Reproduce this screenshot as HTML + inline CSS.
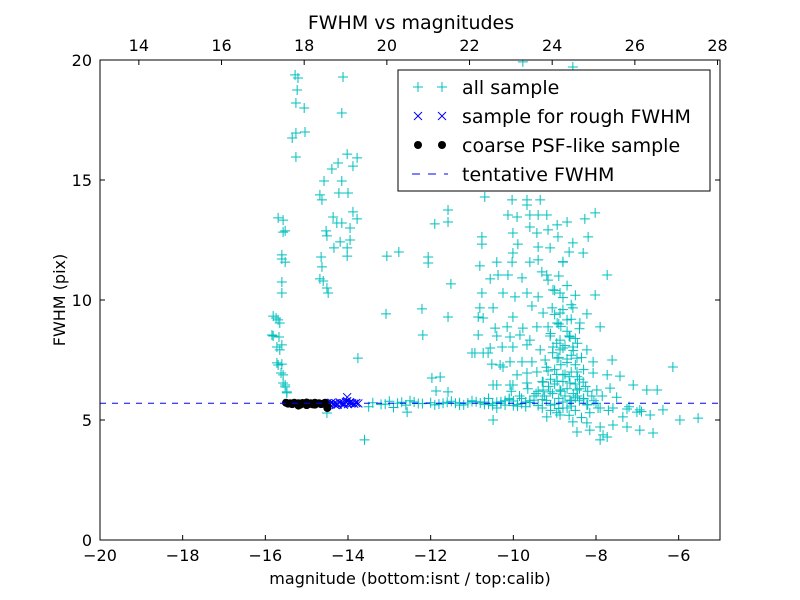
<!DOCTYPE html>
<html><head><meta charset="utf-8"><style>
body{margin:0;background:#fff;}
svg{display:block;font-family:"DejaVu Sans","Liberation Sans",sans-serif;}
</style></head><body>
<svg id="chart" width="800" height="600"></svg>
<script>
const allX=[-15.69,-15.57,-15.60,-15.52,-15.60,-15.74,-15.65,-15.81,-15.65,-15.69,-15.57,-15.52,-15.48,
-15.57,-15.52,-15.60,-15.60,-15.81,-15.69,-15.84,-15.67,-15.72,-15.60,-15.72,-15.60,-15.62,-15.57,-15.52,-15.48,
-15.28,-15.21,-15.23,-15.26,-15.06,-15.35,-15.26,-15.04,-15.26,-14.12,-14.15,
-14.02,-13.78,-14.24,-14.39,-13.88,-14.58,-14.15,-14.22,-14.00,-14.68,-14.63,-14.36,-13.88,-13.78,-14.27,-14.15,-13.95,-14.53,-14.51,-14.19,-13.95,-14.34,-14.02,-14.02,-14.65,-14.63,-14.68,-14.60,-14.51,-14.48,
-13.06,-12.77,-12.06,-12.06,-11.51,-13.08,-12.21,-11.58,-12.19,-13.76,-11.58,-11.90,-11.58,-11.97,-11.77,-11.87,-11.58,-14.51,-12.57,
-9.77,-8.56,-10.69,-10.03,-9.67,-9.35,-9.67,-10.13,-9.91,-9.60,-9.40,-9.19,-8.70,-8.27,-8.02,-8.94,-9.60,-10.01,-9.43,-9.16,-8.92,-8.19,-10.76,-10.76,-9.89,-9.40,-9.11,-8.56,-8.31,-10.01,-10.40,-10.81,-10.03,-9.60,-9.40,-8.80,-9.31,-10.56,-10.37,-10.13,-9.79,-9.19,-9.16,-7.73,-10.76,-10.25,-9.96,-9.67,-9.40,-9.04,-8.87,-8.02,-10.81,-10.49,-10.01,-9.55,-9.28,-9.06,-8.87,-8.56,-8.22,-10.73,-10.85,-10.44,-10.15,-9.77,-9.43,-9.16,-8.94,-8.70,-8.39,-7.90,-10.85,-10.40,-10.08,-9.84,-9.60,-9.11,-8.87,-8.63,-11.00,-10.73,-10.56,-10.27,-10.01,-9.67,-9.35,-9.04,-8.87,-8.56,-8.22,-10.93,-10.61,-10.32,-10.08,-9.79,-9.55,-9.23,-8.94,-8.70,-8.46,-8.07,-7.61,-6.14,-10.52,-10.25,-9.91,-9.67,-9.43,-9.16,-8.80,-8.46,-8.07,-7.73,-7.42,-7.10,-10.40,-10.01,-9.67,-9.28,-8.94,-8.63,-8.31,-10.49,-10.08,-9.67,-9.28,-8.87,-8.46,-7.98,-7.66,-6.77,-6.52,-9.11,-8.63,-8.22,-7.90,-7.59,-7.25,-6.94,-6.38,-7.01,-6.69,-7.35,-5.97,-5.53,-10.49,-9.19,-8.87,-8.56,-8.22,-7.90,-7.59,-7.25,-6.94,-6.62,-8.15,-8.46,-7.83,-7.73,-7.90,
-13.6,-13.4,-13.2,-13.0,-12.8,-12.6,-12.4,-12.2,-12.0,-11.8,-11.6,-11.4,-11.2,-11.0,-10.8,-10.6,-10.4,-10.2,-10.0,-9.8,-9.6,-9.4,-9.2,-9.0,-8.8,-8.6,-8.4,-8.2,-8.0,-13.5,-13.1,-12.7,-12.3,-11.9,-11.5,-11.1,-10.7,-10.3,-9.9,-9.5,-9.1,-8.7,-8.3,-12.9,-12.5,-11.7,-11.3,-10.9,-10.5,-10.1,-9.7,-9.3,-8.9,-8.5,-7.7,-7.5,-7.2,-6.9];
const allY=[13.42,12.83,11.88,11.58,10.75,9.25,9.04,8.50,7.92,7.29,6.88,6.46,6.13,
13.33,12.88,11.71,10.29,9.33,9.17,8.54,8.46,8.04,8.13,7.38,7.33,6.96,6.54,6.38,6.17,
19.38,19.25,18.75,18.21,18.00,16.75,16.96,17.00,15.96,19.29,17.79,
16.08,15.92,15.71,15.46,15.58,14.96,14.96,14.46,14.46,14.38,14.17,13.46,13.67,13.38,13.21,13.21,13.00,12.88,12.67,12.42,12.50,12.17,12.17,11.83,11.79,11.38,10.88,10.79,10.50,10.29,
11.83,12.00,11.79,11.54,10.67,9.42,9.63,9.29,8.54,7.58,13.75,13.17,13.25,6.75,6.79,6.21,6.17,5.29,5.33,
19.92,19.71,14.29,14.17,14.17,14.17,13.96,13.54,13.46,13.54,13.54,13.54,13.25,13.38,13.63,13.13,13.04,12.79,12.79,12.92,12.63,12.63,12.63,12.33,12.33,12.21,12.17,12.38,11.96,11.96,11.58,11.42,11.58,11.58,11.67,11.58,11.17,10.88,11.04,11.04,10.92,11.04,10.83,11.04,10.29,10.29,10.13,10.29,10.13,10.42,10.29,10.21,9.67,9.67,9.29,9.75,9.46,9.67,9.46,9.67,9.42,9.25,9.29,8.83,8.88,8.83,8.88,8.88,9.04,9.17,9.04,8.88,8.54,8.50,8.46,8.54,8.33,8.50,8.33,8.46,7.79,7.79,8.00,8.04,8.04,8.13,7.92,8.04,7.92,8.04,7.92,7.79,7.79,7.29,7.42,7.42,7.42,7.50,7.58,7.54,7.58,7.42,7.50,7.21,7.33,7.21,6.88,6.96,7.00,7.04,6.88,7.00,6.96,6.88,6.83,6.46,6.46,6.46,6.54,6.58,6.62,6.54,6.58,6.46,6.46,6.54,6.25,6.25,6.25,6.25,6.33,6.25,6.25,6.17,5.83,5.63,5.50,5.50,5.46,5.42,5.42,5.33,5.21,5.13,5.00,5.08,5.00,5.13,5.21,4.92,4.88,4.71,4.79,4.71,4.58,4.46,4.58,4.50,4.38,4.29,4.17,4.17,
5.72,5.65,5.78,5.70,5.62,5.75,5.68,5.72,5.66,5.74,5.70,5.63,5.77,5.71,5.66,5.74,5.62,5.79,5.68,5.73,5.60,5.82,5.66,5.75,5.58,5.80,5.64,5.70,5.55,5.66,5.74,5.69,5.63,5.78,5.71,5.65,5.76,5.58,5.83,5.62,5.50,5.88,5.52,5.80,5.70,5.62,5.76,5.68,5.90,5.55,5.85,5.48,5.92,5.40,5.95,5.55,5.35,5.60];
const clusterX=[-9.0,-8.9,-8.8,-8.7,-8.6,-8.5,-8.4,-9.1,-8.95,-8.85,-8.75,-8.65,-8.55,-8.45,-9.05,-8.9,-8.8,-8.7,-8.6,-8.5,-8.35,-9.2,-9.0,-8.85,-8.75,-8.6,-8.45,-8.3,-9.1,-8.95,-8.8,-8.65,-8.5,-8.4,-8.25,-9.3,-9.15,-9.0,-8.85,-8.7,-8.55,-8.4,-8.2,-9.4,-9.25,-9.05,-8.9,-8.75,-8.6,-8.45,-8.3,-8.1,-9.5,-9.3,-9.1,-8.95,-8.8,-8.65,-8.5,-8.35,-8.15,-9.0,-8.8,-8.6,-8.9,-8.7,-8.5,-8.8,-8.65,-9.6,-9.8,-10.0,-10.2,-10.4,-10.6,-9.7,-9.9,-10.1,-10.3,-10.5,-10.7,-11.0,-11.3,-9.45,-9.65,-9.85,-10.05,-8.05,-7.95,-7.85];
const clusterY=[9.4,9.0,9.6,8.7,9.2,8.4,8.8,8.6,8.2,8.9,8.1,8.5,7.9,8.2,7.8,7.6,8.0,7.4,7.7,7.3,7.6,7.2,7.1,7.3,6.9,7.0,6.8,7.1,6.7,6.9,6.6,6.8,6.5,6.7,6.4,6.6,6.4,6.5,6.2,6.3,6.1,6.3,6.2,6.2,6.0,6.1,5.9,6.0,5.8,6.0,5.9,6.0,6.0,5.5,5.4,5.3,5.5,5.2,5.4,5.1,5.3,10.4,10.1,9.8,11.0,10.6,10.2,11.6,12.0,5.8,5.9,5.6,5.8,5.5,5.9,5.75,5.65,5.85,5.7,5.6,5.75,5.8,5.72,6.1,6.3,6.0,6.2,5.8,5.5,6.0];
const roughX=[-14.5,-14.45,-14.4,-14.35,-14.3,-14.25,-14.2,-14.15,-14.1,-14.05,-14.02,-14.0,-13.95,-13.9,-13.85,-13.8,-13.75,-14.3,-14.1,-13.95,-14.02];
const roughY=[5.7,5.66,5.72,5.68,5.7,5.64,5.73,5.69,5.7,5.75,5.78,5.66,5.72,5.7,5.68,5.71,5.69,5.62,5.64,5.74,5.95];
const psfX=[-15.5,-15.45,-15.4,-15.35,-15.3,-15.25,-15.2,-15.15,-15.1,-15.05,-15.0,-14.95,-14.9,-14.85,-14.8,-14.75,-14.7,-14.65,-14.6,-14.55,-14.5,-15.2,-15.0,-14.8,-14.5];
const psfY=[5.72,5.68,5.7,5.66,5.72,5.69,5.7,5.64,5.71,5.68,5.73,5.66,5.7,5.65,5.72,5.69,5.7,5.66,5.68,5.72,5.62,5.6,5.62,5.64,5.5];
const tentative=5.7;
const xTicks=[-20,-18,-16,-14,-12,-10,-8,-6];
const topTicks=[14,16,18,20,22,24,26,28];
const yTicks=[0,5,10,15,20];

const NS="http://www.w3.org/2000/svg";
const svg=document.getElementById('chart');
const L=100,R=720,T=60,B=540;
const sx=v=>L+(v+20)/15*(R-L);
const sy=v=>B-v/20*(B-T);
const stx=v=>sx(v-33.06);
function mk(tag,attrs,parent){const e=document.createElementNS(NS,tag);for(const k in attrs)e.setAttribute(k,attrs[k]);(parent||svg).appendChild(e);return e;}
const clip=mk('clipPath',{id:'pc'});mk('rect',{x:L,y:T,width:R-L,height:B-T},clip);
const g=mk('g',{'clip-path':'url(#pc)'});


function plus(x,y,c,p){const s=5;mk('path',{d:`M${x-s},${y}H${x+s}M${x},${y-s}V${y+s}`,stroke:c,'stroke-width':1,fill:'none'},p);}
function cross(x,y,c,p){const s=4;mk('path',{d:`M${x-s},${y-s}L${x+s},${y+s}M${x-s},${y+s}L${x+s},${y-s}`,stroke:c,'stroke-width':1,fill:'none'},p);}
const gAll=mk('g',{},g);


allX.forEach((v,i)=>plus(sx(v),sy(allY[i]),'#00bfbf',gAll));
clusterX.forEach((v,i)=>plus(sx(v),sy(clusterY[i]),'#00bfbf',gAll));
const gR=mk('g',{},g);


roughX.forEach((v,i)=>cross(sx(v),sy(roughY[i]),'#0000ff',gR));
const gP=mk('g',{},g);


psfX.forEach((v,i)=>mk('circle',{cx:sx(v),cy:sy(psfY[i]),r:4,fill:'#000'},gP));
const tl=mk('line',{x1:L,x2:R,y1:sy(tentative),y2:sy(tentative),stroke:'#0000ff','stroke-width':1,'stroke-dasharray':'6,6'},g);


const fr=mk('rect',{x:L,y:T,width:R-L,height:B-T,fill:'none',stroke:'#000','stroke-width':1});


function txt(x,y,s,sz,anchor,name){const t=mk('text',{x:x,y:y,'font-size':sz,'text-anchor':anchor||'middle',fill:'#000'});t.textContent=s;return t;}
xTicks.forEach(v=>{const x=sx(v);mk('path',{d:`M${x},${B}v-5`,stroke:'#000'});txt(x,B+21,v<0?'\u2212'+(-v):String(v),16,'middle','x-tick-label');});
topTicks.forEach(v=>{const x=stx(v);mk('path',{d:`M${x},${T}v5`,stroke:'#000'});txt(x,T-9,String(v),16,'middle','top-tick-label');});
yTicks.forEach(v=>{const y=sy(v);mk('path',{d:`M${L},${y}h5M${R},${y}h-5`,stroke:'#000'});txt(L-8,y+6,String(v),16,'end','y-tick-label');});
txt(411,29,'FWHM vs magnitudes',19,'middle','chart-title');
txt(410,584,'magnitude (bottom:isnt / top:calib)',16,'middle','x-axis-title');
const yl=txt(0,0,'FWHM (pix)',16,'middle','y-axis-title');yl.setAttribute('transform','translate(65,300) rotate(-90)');
const lg=mk('g',{});


mk('rect',{x:398,y:70,width:312,height:121,fill:'#fff',stroke:'#000','stroke-width':1},lg);
const rows=[87,116,145,174];
plus(418,rows[0],'#00bfbf',lg);plus(442,rows[0],'#00bfbf',lg);
cross(418,rows[1],'#0000ff',lg);cross(442,rows[1],'#0000ff',lg);
mk('circle',{cx:418,cy:rows[2],r:4,fill:'#000'},lg);mk('circle',{cx:442,cy:rows[2],r:4,fill:'#000'},lg);
mk('line',{x1:412,x2:448,y1:rows[3],y2:rows[3],stroke:'#0000ff','stroke-dasharray':'8,8'},lg);
['all sample','sample for rough FWHM','coarse PSF-like sample','tentative FWHM'].forEach((s,i)=>{const t=txt(462,rows[i]+7,s,19,'start','legend-label');lg.appendChild(t);});
</script>
</body></html>
